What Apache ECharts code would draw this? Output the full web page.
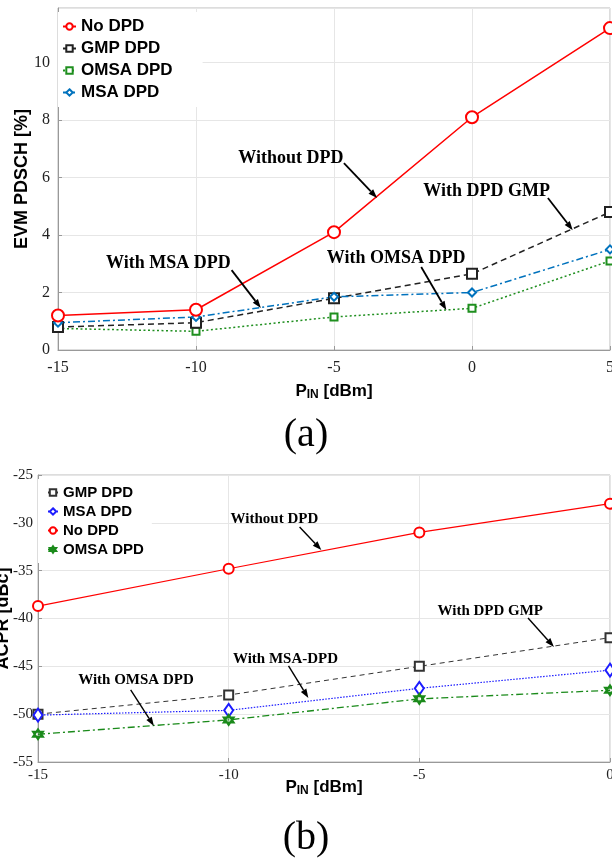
<!DOCTYPE html>
<html>
<head>
<meta charset="utf-8">
<script src="https://cdn.jsdelivr.net/npm/echarts@6/dist/echarts.min.js"></script>
<style>
  html, body { margin: 0; padding: 0; background: #fff; }
  #main { width: 612px; height: 862px; }
</style>
</head>
<body>
<div id="main"></div>
<script>
// (a) EVM vs input power
const xTop = [-15, -10, -5, 0, 5]
const evmNo = [1.2, 1.4, 4.1, 8.1, 11.2]
const evmGmp = [0.8, 0.95, 1.8, 2.65, 4.8]
const evmOmsa = [0.75, 0.65, 1.15, 1.45, 3.1]
const evmMsa = [0.95, 1.15, 1.85, 2.0, 3.5]

// (b) ACPR vs input power
const xBot = [-15, -10, -5, 0]
const acprGmp = [-50.0, -48.0, -45.0, -42.0]
const acprMsa = [-50.1, -49.6, -47.3, -45.4]
const acprNo = [-38.7, -34.8, -31.0, -28.0]
const acprOmsa = [-52.1, -50.6, -48.4, -47.5]

// annotation text + arrows, in data units of each plot
const notesTop = [
  {text: 'Without DPD', at: [-6.56, 6.68], from: [-4.64, 6.5], to: [-3.44, 5.29]},
  {text: 'With DPD GMP', at: [0.53, 5.53], from: [2.75, 5.29], to: [3.65, 4.17]},
  {text: 'With OMSA DPD', at: [-2.75, 3.2], from: [-1.84, 2.89], to: [-0.93, 1.39]},
  {text: 'With MSA DPD', at: [-11, 3.03], from: [-8.71, 2.78], to: [-7.65, 1.46]}
]
const notesBot = [
  {text: 'Without DPD', at: [-8.8, -29.6], from: [-8.14, -30.43], to: [-7.57, -32.84]},
  {text: 'With DPD GMP', at: [-3.14, -39.2], from: [-2.15, -39.94], to: [-1.47, -42.97]},
  {text: 'With MSA-DPD', at: [-8.51, -44.23], from: [-8.43, -44.96], to: [-7.91, -48.3]},
  {text: 'With OMSA DPD', at: [-12.43, -46.42], from: [-12.57, -47.47], to: [-11.96, -51.23]}
]

function pts(xs, ys) {
  return xs.map((x, i) => [x, ys[i]])
}

const serif = 'Liberation Serif'
const sans = 'Liberation Sans'
const hexagram = 'emptyPath://M0,-10L8.66,5L-8.66,5Z M0,10L8.66,-5L-8.66,-5Z'

function line(name, grid, xs, ys, opt) {
  return {
    name: name,
    type: 'line',
    xAxisIndex: grid,
    yAxisIndex: grid,
    data: pts(xs, ys),
    symbol: opt.symbol,
    symbolSize: opt.size,
    showAllSymbol: true,
    clip: false,
    z: opt.z || 2,
    lineStyle: {color: opt.color, width: opt.width, type: opt.dash || 'solid'},
    itemStyle: {color: opt.color, borderWidth: opt.bw || 1.3}
  }
}

function xAxisOf(grid, max, fontSize, margin, nameGap) {
  return {
    gridIndex: grid,
    type: 'value',
    min: -15,
    max: max,
    interval: 5,
    axisLine: {show: true, onZero: false, lineStyle: {color: '#999'}},
    axisTick: {show: true, inside: true, length: 4, lineStyle: {color: '#999'}},
    splitLine: {show: true, lineStyle: {color: '#e6e6e6'}},
    axisLabel: {fontFamily: serif, fontSize: fontSize, color: '#222', margin: margin},
    name: '{p|P}{s|IN}{p| [dBm]}',
    nameLocation: 'middle',
    nameGap: nameGap,
    nameMoveOverlap: false,
    nameTextStyle: {
      rich: {
        p: {fontFamily: sans, fontWeight: 'bold', fontSize: 17, color: '#000', lineHeight: 18, verticalAlign: 'top'},
        s: {fontFamily: sans, fontWeight: 'bold', fontSize: 12, color: '#000', lineHeight: 12, padding: [9, 0, 0, 0], verticalAlign: 'bottom'}
      }
    }
  }
}

function yAxisOf(grid, min, max, interval, fontSize, margin, name, nameGap) {
  return {
    gridIndex: grid, type: 'value', min: min, max: max, interval: interval,
    axisLine: {show: true, onZero: false, lineStyle: {color: '#999'}},
    axisTick: {show: true, inside: true, length: 4, lineStyle: {color: '#999'}},
    splitLine: {show: true, lineStyle: {color: '#e6e6e6'}},
    axisLabel: {fontFamily: serif, fontSize: fontSize, color: '#222', margin: margin, showMaxLabel: max % interval === 0},
    name: name, nameLocation: 'middle', nameGap: nameGap, nameMoveOverlap: false,
    nameTextStyle: {fontFamily: sans, fontWeight: 'bold', fontSize: 18, color: '#000'}
  }
}

const option = {
  animation: false,
  backgroundColor: '#fff',
  title: [
    {text: '(a)', left: 'center', top: 410, textStyle: {fontFamily: serif, fontSize: 40, fontWeight: 'normal', color: '#000'}},
    {text: '(b)', left: 'center', top: 813, textStyle: {fontFamily: serif, fontSize: 40, fontWeight: 'normal', color: '#000'}}
  ],
  grid: [
    {left: 58, right: 2, top: 8, height: 342, show: true, borderColor: '#bbb', borderWidth: 1, outerBoundsMode: 'none', containLabel: false},
    {left: 38, right: 2, top: 475, height: 287, show: true, borderColor: '#bbb', borderWidth: 1, outerBoundsMode: 'none', containLabel: false}
  ],
  legend: [
    {
      orient: 'vertical', left: 58, top: 12,
      data: ['a:No DPD', 'a:GMP DPD', 'a:OMSA DPD', 'a:MSA DPD'],
      formatter: n => n.slice(2),
      itemWidth: 13, itemHeight: 8, itemGap: 5,
      backgroundColor: '#fff', padding: [6, 30, 6, 4],
      textStyle: {fontFamily: sans, fontWeight: 'bold', fontSize: 17, color: '#000'}
    },
    {
      orient: 'vertical', left: 38, top: 479,
      data: ['b:GMP DPD', 'b:MSA DPD', 'b:No DPD', 'b:OMSA DPD'],
      formatter: n => n.slice(2),
      itemWidth: 10, itemHeight: 8, itemGap: 4,
      backgroundColor: '#fff', padding: [6, 8, 6, 9],
      textStyle: {fontFamily: sans, fontWeight: 'bold', fontSize: 15, color: '#000'}
    }
  ],
  xAxis: [
    xAxisOf(0, 5, 16, 10, 33),
    xAxisOf(1, 0, 15, 6, 17)
  ],
  yAxis: [
    yAxisOf(0, 0, 11.9, 2, 16, 8, 'EVM PDSCH [%]', 27),
    yAxisOf(1, -55, -25, 5, 15, 5, 'ACPR [dBc]', 26)
  ],
  series: [
    line('a:No DPD', 0, xTop, evmNo, {symbol: 'emptyCircle', size: 12, color: '#ff0000', width: 1.5, z: 5}),
    line('a:GMP DPD', 0, xTop, evmGmp, {symbol: 'emptyRect', size: 10, color: '#222', width: 1.5, dash: [6, 4], z: 4}),
    line('a:OMSA DPD', 0, xTop, evmOmsa, {symbol: 'emptyRect', size: 7, color: '#1f8f1f', width: 1.5, dash: [2, 2.5], z: 3}),
    line('a:MSA DPD', 0, xTop, evmMsa, {symbol: 'emptyDiamond', size: 8, color: '#0072bd', width: 1.5, dash: [7, 3, 2, 3], z: 4}),
    line('b:GMP DPD', 1, xBot, acprGmp, {symbol: 'emptyRect', size: 9, color: '#333', width: 1, dash: [5, 4]}),
    line('b:MSA DPD', 1, xBot, acprMsa, {symbol: 'emptyDiamond', size: [9, 13], color: '#1c1cff', width: 1.2, dash: [1.5, 1.5]}),
    line('b:No DPD', 1, xBot, acprNo, {symbol: 'emptyCircle', size: 10, color: '#ff0000', width: 1.2}),
    line('b:OMSA DPD', 1, xBot, acprOmsa, {symbol: hexagram, size: 10, color: '#1a8a1a', width: 1.3, dash: [7, 3, 2, 3], bw: 1.8})
  ]
}

const chart = echarts.init(document.getElementById('main'))
chart.setOption(option)

function buildNotes(notes, gridIndex, fontSize, lw) {
  const els = []
  notes.forEach(n => {
    const t = chart.convertToPixel({gridIndex: gridIndex}, n.at)
    const a = chart.convertToPixel({gridIndex: gridIndex}, n.from)
    const b = chart.convertToPixel({gridIndex: gridIndex}, n.to)
    const dx = b[0] - a[0]
    const dy = b[1] - a[1]
    const len = Math.sqrt(dx * dx + dy * dy)
    const ux = dx / len
    const uy = dy / len
    const L = 9
    const W = 3.2
    const bx = b[0] - ux * L
    const by = b[1] - uy * L
    els.push({
      type: 'line', z: 20,
      shape: {x1: a[0], y1: a[1], x2: bx, y2: by},
      style: {stroke: '#000', lineWidth: lw}
    })
    els.push({
      type: 'polygon', z: 20,
      shape: {points: [[b[0], b[1]], [bx - uy * W, by + ux * W], [bx + uy * W, by - ux * W]]},
      style: {fill: '#000'}
    })
    els.push({
      type: 'text', z: 21, x: t[0], y: t[1],
      style: {
        text: n.text, fill: '#000', align: 'center', verticalAlign: 'middle',
        fontFamily: serif, fontWeight: 'bold', fontSize: fontSize
      }
    })
  })
  return els
}

chart.setOption({
  graphic: buildNotes(notesTop, 0, 18, 1.8).concat(buildNotes(notesBot, 1, 15, 1.4))
})
</script>
</body>
</html>
